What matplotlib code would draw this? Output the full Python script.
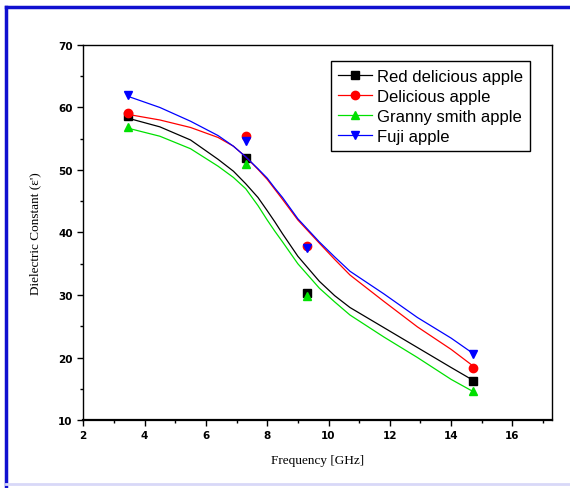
import matplotlib.pyplot as plt
from matplotlib.lines import Line2D
from matplotlib.ticker import MultipleLocator

# measured points
freq = [3.45, 7.3, 9.3, 14.7]
red_delicious = [58.6, 51.9, 30.3, 16.3]
delicious = [59.1, 55.4, 37.8, 18.4]
granny_smith = [56.9, 51.0, 29.8, 14.6]
fuji = [62.0, 54.6, 37.6, 20.6]

# fitted curves
curve_x = [3.45, 4.5, 5.5, 6.4, 6.9, 7.3, 7.7, 8.0, 8.25, 8.5, 9.0, 9.7, 10.2, 10.7,
           11.8, 12.9, 14.0, 14.7]
red_delicious_fit = [58.3, 56.9, 54.8, 51.7, 49.8, 47.8, 45.6, 43.5, 41.7, 39.8, 36.2,
                     32.2, 29.9, 28.0, 24.8, 21.6, 18.4, 16.4]
delicious_fit = [58.9, 58.0, 56.8, 55.2, 53.8, 52.1, 50.1, 48.5, 46.9, 45.3, 42.0,
                 38.3, 35.7, 33.2, 29.0, 24.9, 21.3, 18.7]
granny_smith_fit = [56.7, 55.4, 53.4, 50.6, 48.8, 47.0, 44.3, 42.0, 40.2, 38.5, 35.0,
                    31.1, 28.9, 26.8, 23.3, 20.0, 16.5, 14.6]
fuji_fit = [61.8, 60.0, 57.8, 55.5, 53.8, 52.1, 50.2, 48.7, 47.1, 45.6, 42.2,
            38.5, 36.1, 33.8, 30.2, 26.4, 23.1, 20.7]

labels = ['Red delicious apple', 'Delicious apple', 'Granny smith apple', 'Fuji apple']
colors = ['#000000', '#ff0000', '#00e000', '#0000ff']
markers = ['s', 'o', '^', 'v']

fig = plt.figure(figsize=(5.7, 4.89), dpi=100)
ax = fig.add_axes([0.146, 0.139, 0.823, 0.767])

series = [red_delicious, delicious, granny_smith, fuji]
fits = [red_delicious_fit, delicious_fit, granny_smith_fit, fuji_fit]
for ys, fy, lab, c, m in zip(series, fits, labels, colors, markers):
    ax.plot(curve_x, fy, color=c, lw=0.9)
    ax.plot(freq, ys, linestyle='none', marker=m, color=c, markersize=6)

handles = [Line2D([], [], color=c, marker=m, lw=0.9, markersize=6)
           for c, m in zip(colors, markers)]
leg = ax.legend(handles, labels, loc='upper right', bbox_to_anchor=(0.953, 0.957),
                borderaxespad=0, fancybox=False, framealpha=1, edgecolor='black',
                prop={'family': 'Liberation Sans', 'size': 12}, handlelength=2.0,
                labelspacing=0.3, handletextpad=0.3, borderpad=0.45)
leg.get_frame().set_linewidth(1.0)

ax.set_xlim(2, 17.3)
ax.set_ylim(10, 70)
ax.xaxis.set_major_locator(MultipleLocator(2))
ax.xaxis.set_minor_locator(MultipleLocator(1))
ax.yaxis.set_major_locator(MultipleLocator(10))
ax.yaxis.set_minor_locator(MultipleLocator(5))
ax.tick_params(which='major', direction='out', length=4, width=1, top=False, right=False)
ax.tick_params(which='minor', direction='out', length=2, width=1, top=False, right=False)
for lab in ax.get_xticklabels() + ax.get_yticklabels():
    lab.set_fontweight('bold')
    lab.set_fontsize(7.5)
    lab.set_family('DejaVu Sans')
ax.spines['bottom'].set_linewidth(1.6)
ax.spines['left'].set_linewidth(1.0)
ax.spines['top'].set_linewidth(1.0)
ax.spines['right'].set_linewidth(1.0)

ax.set_xlabel('Frequency [GHz]', family='Liberation Serif', fontsize=9.5, labelpad=10)
ax.set_ylabel("Dielectric Constant (\u03b5')", family='Liberation Serif', fontsize=9.5, labelpad=12)

# frame around the picture
fig.add_artist(Line2D([0.011, 0.011], [0.0, 0.984], color='#1010d0', lw=2.5, transform=fig.transFigure))
fig.add_artist(Line2D([0.011, 1.0], [0.984, 0.984], color='#1010d0', lw=2.5, transform=fig.transFigure))
fig.add_artist(Line2D([0.011, 1.0], [0.008, 0.008], color='#d8d8f8', lw=2, transform=fig.transFigure))

fig.savefig('out.png', dpi=100)
